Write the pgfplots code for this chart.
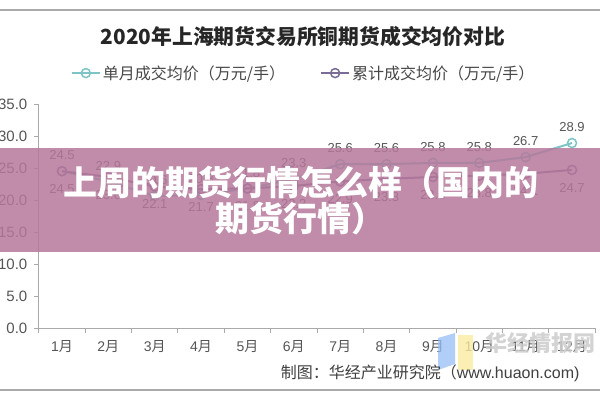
\documentclass[border=0pt]{standalone}
\usepackage{pgfplots}
\pgfplotsset{compat=1.18}
\usepackage{fontspec}
\setmainfont{Liberation Sans}
\newfontfamily\cjk{Noto Sans CJK SC}
\definecolor{sone}{RGB}{125,196,198}
\definecolor{stwo}{RGB}{122,108,150}
\definecolor{tickc}{RGB}{85,85,85}
\definecolor{axc}{RGB}{170,170,170}
\definecolor{bannerc}{RGB}{181,120,155}
\definecolor{logob}{RGB}{150,190,245}
\definecolor{logoy}{RGB}{250,236,160}
\begin{document}
\begin{tikzpicture}[x=1pt,y=1pt]
\useasboundingbox (0,0) rectangle (600,400);
\fill[white] (0,0) rectangle (600,400);
\draw[color=axc,line width=1.2pt] (0,390) -- (600,390);
\draw[color=axc,line width=1.2pt] (0,10) -- (600,10);
\node[font=\cjk\bfseries\fontsize{20.8}{23}\selectfont,text=black!85] at (303,363) {2020年上海期货交易所铜期货成交均价对比};
\begin{axis}[
  at={(38.8pt,72pt)}, anchor=south west,
  scale only axis, width=556.4pt, height=224pt,
  xmin=0.5, xmax=12.5, ymin=0, ymax=35,
  axis x line*=bottom, axis y line*=left,
  axis line style={color=axc,line width=1pt},
  xtick={1,...,12},
  xticklabels={1{\cjk 月},2{\cjk 月},3{\cjk 月},4{\cjk 月},5{\cjk 月},6{\cjk 月},7{\cjk 月},8{\cjk 月},9{\cjk 月},10{\cjk 月},11{\cjk 月},12{\cjk 月}},
  minor xtick={0.5,1.5,...,12.5},
  major x tick style={draw=none},
  minor x tick style={color=axc,line width=1pt},
  ytick={0,5,...,35},
  y tick style={color=axc,line width=1pt},
  tick align=outside, major tick length=5pt, minor tick length=5pt,
  yticklabel={\pgfmathprintnumber[fixed,fixed zerofill,precision=1]{\tick}},
  /pgf/number format/assume math mode=true,
  yticklabel style={font=\fontsize{15}{17}\selectfont,text=tickc,anchor=east,xshift=-3pt},
  xticklabel style={font=\fontsize{14}{16}\selectfont,text=tickc,yshift=-4pt},
  legend style={at={(0.476,1.138)},anchor=center,draw=none,fill=none,
    legend columns=2,font=\cjk\fontsize{16}{18}\selectfont,text=black!72,
    /tikz/every even column/.append style={column sep=33pt}},
  legend image code/.code={\draw[#1,mark repeat=2,mark phase=2] plot coordinates {(0pt,0pt)(14pt,0pt)(28pt,0pt)};},
  clip=false,
]
\addplot[color=sone,line width=2pt,mark=o,mark size=4.5pt,
  mark options={fill=white,line width=1.5pt},
  nodes near coords, point meta=explicit symbolic,
  every node near coord/.style={font=\fontsize{13}{15}\selectfont,text=tickc,anchor=south,yshift=7pt}]
  coordinates {(1,24.5)[24.5] (2,22.9)[22.9] (3,20.6)[20.6] (4,20.8)[20.8] (5,21.8)[21.8] (6,23.3)[23.3] (7,25.6)[25.6] (8,25.6)[25.6] (9,25.8)[25.8] (10,25.8)[25.8] (11,26.7)[26.7] (12,28.9)[28.9]};
\addlegendentry{单月成交均价（万元/手）}
\addplot[color=stwo,line width=2pt,mark=o,mark size=4.5pt,
  mark options={fill=white,line width=1.5pt},
  nodes near coords, point meta=explicit symbolic,
  every node near coord/.style={font=\fontsize{13}{15}\selectfont,text=tickc,anchor=north,yshift=-9pt}]
  coordinates {(1,24.5)[24.5] (2,23.6)[23.6] (3,22.1)[22.1] (4,21.7)[21.7] (5,21.8)[21.8] (6,22.2)[22.2] (7,22.9)[22.9] (8,23.3)[23.3] (9,23.6)[23.6] (10,23.8)[23.8] (11,24.1)[24.1] (12,24.7)[24.7]};
\addlegendentry{累计成交均价（万元/手）}
\end{axis}
% watermark
\fill[logob,opacity=0.75] (438,30) -- (455,36) -- (455,67) -- (438,62) -- cycle;
\fill[logoy,opacity=0.8] (458,30) rectangle (473,65);
\node[font=\cjk\bfseries\fontsize{22}{24}\selectfont,text=black!20,opacity=0.85] at (540,57) {华经情报网};
\node[anchor=east,font=\fontsize{16}{18}\selectfont,text=black!75] at (583,27) {{\cjk 制图：华经产业研究院（}www.huaon.com)};
% banner
\fill[bannerc,opacity=0.85] (0,148) rectangle (600,252);
\node[align=center,text=white,font=\cjk\bfseries\fontsize{34}{36}\selectfont] at (301,199) {上周的期货行情怎么样（国内的\\期货行情）};
\end{tikzpicture}
\end{document}
